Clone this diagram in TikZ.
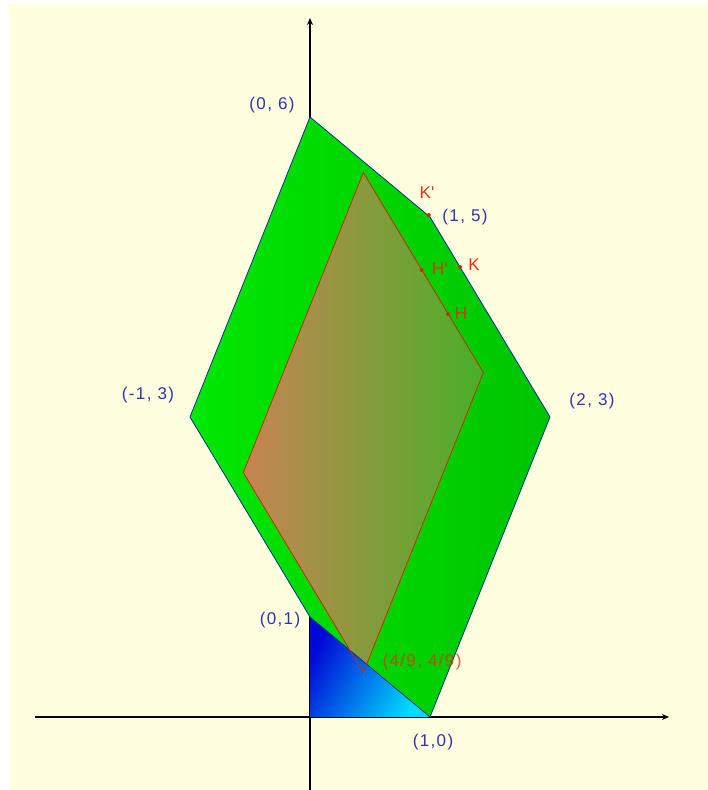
\documentclass[tikz,border=0pt]{standalone}
\usepackage{fontspec}
\newfontfamily\lblfont[LetterSpace=8]{Liberation Sans}
\newfontfamily\ptfont{Liberation Sans}
\usetikzlibrary{arrows.meta}
\definecolor{bg}{RGB}{255,255,224}
\definecolor{gleft}{RGB}{0,232,0}
\definecolor{gright}{RGB}{0,196,0}
\definecolor{pleft}{RGB}{200,132,82}
\definecolor{pright}{RGB}{72,176,40}
\definecolor{bdark}{RGB}{0,8,215}
\definecolor{blight}{RGB}{0,220,255}
\definecolor{edgeblue}{RGB}{0,50,140}
\definecolor{pedge}{RGB}{205,40,10}
\definecolor{lblblue}{RGB}{50,50,175}
\definecolor{lblred}{RGB}{230,45,25}
\tikzset{
  axisline/.style={black, line width=1.2pt, -{Stealth[length=7pt,width=6pt]}},
  greenedge/.style={edgeblue, line width=0.8pt},
  paredge/.style={pedge, line width=0.8pt},
  coordlbl/.style={text=lblblue, font=\lblfont\fontsize{17}{20}\selectfont, inner sep=0pt},
  ptlbl/.style={text=lblred, font=\ptfont\fontsize{17}{20}\selectfont, inner sep=0pt},
  ptdot/.style={fill=pedge}
}
\begin{document}
\begin{tikzpicture}[x=120pt,y=100pt]
\useasboundingbox (-310pt,-73pt) rectangle (398pt,717pt);
\fill[bg] (-301pt,-73pt) rectangle (398pt,713pt);
% vertices
\coordinate (O) at (0,0);
\coordinate (A) at (0,1);
\coordinate (B) at (-1,3);
\coordinate (C) at (0,6);
\coordinate (D) at (1,5);
\coordinate (E) at (2,3);
\coordinate (F) at (1,0);
\coordinate (P1) at (4/9,4/9);
\coordinate (P2) at (-5/9,22/9);
\coordinate (P3) at (4/9,49/9);
\coordinate (P4) at (13/9,31/9);
\coordinate (K) at (1.25,4.5);
\coordinate (Kp) at (0.99,5.02);
\coordinate (H) at (1.15,4.03);
\coordinate (Hp) at (0.93,4.47);
% axes end points
\coordinate (xl) at (-275pt,0);
\coordinate (xr) at (359pt,0);
\coordinate (yb) at (0,-73pt);
\coordinate (yt) at (0,699pt);
% axes (behind the regions)
\draw[axisline] (xl) -- (xr);
\draw[axisline] (yb) -- (yt);
% green region
\shade[left color=gleft, right color=gright] (A) -- (B) -- (C) -- (D) -- (E) -- (F) -- cycle;
% parallelogram fill
\shade[left color=pleft, right color=pright] (P1) -- (P2) -- (P3) -- (P4) -- cycle;
% blue triangle
\shade[top color=bdark, bottom color=blight, shading angle=60] (O) -- (A) -- (F) -- cycle;
% outlines
\draw[greenedge] (A) -- (B) -- (C) -- (D) -- (E) -- (F) -- cycle;
\draw[paredge] (P1) -- (P2) -- (P3) -- (P4) -- cycle;
% points
\fill[ptdot] (K) circle (2pt);
\fill[ptdot] (Kp) circle (2pt);
\fill[ptdot] (H) circle (2pt);
\fill[ptdot] (Hp) circle (2pt);
% labels
\node[coordlbl] (l06) at (-38pt,612pt) {(0, 6)};
\node[coordlbl] (l15) at (155pt,500pt) {(1, 5)};
\node[coordlbl] (lm13) at (-162pt,322pt) {(-1, 3)};
\node[coordlbl] (l23) at (282pt,316pt) {(2, 3)};
\node[coordlbl] (l01) at (-30pt,97pt) {(0,1)};
\node[coordlbl] (l10) at (123pt,-25pt) {(1,0)};
\node[coordlbl, text=lblred, text opacity=0.8] (l49) at (112pt,55pt) {(4/9, 4/9)};
\node[ptlbl] (lKp) at (117pt,524pt) {K'};
\node[ptlbl] (lK) at (164pt,452pt) {K};
\node[ptlbl] (lHp) at (130pt,448pt) {H'};
\node[ptlbl] (lH) at (151pt,403pt) {H};
\end{tikzpicture}
\end{document}
